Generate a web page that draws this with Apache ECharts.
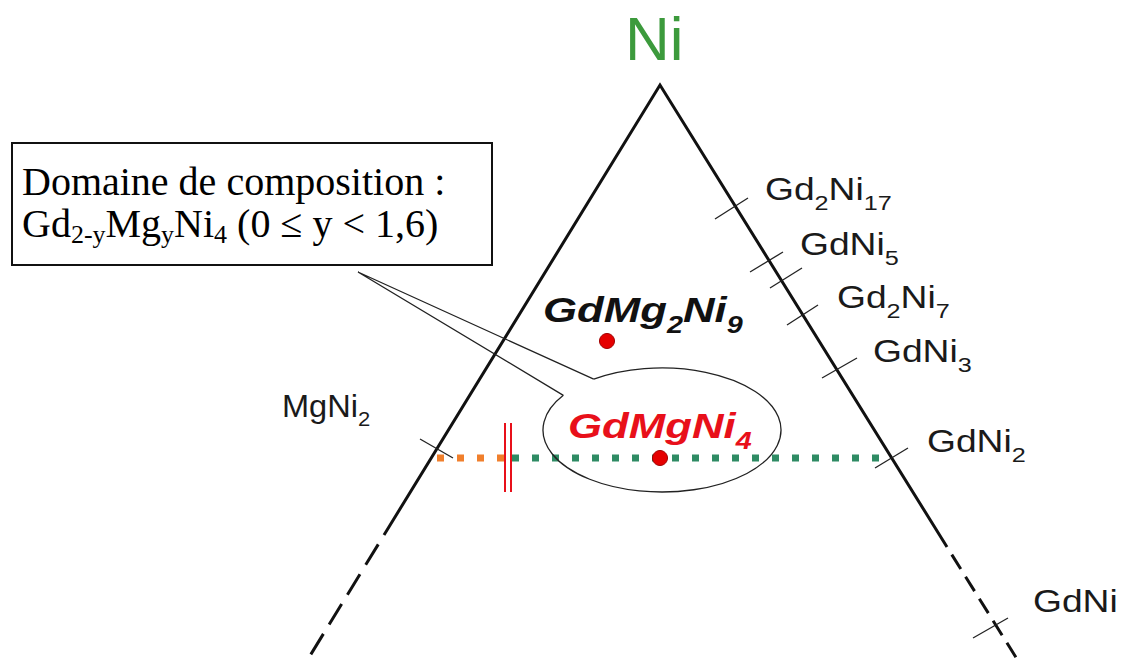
<!DOCTYPE html>
<html><head><meta charset="utf-8">
<script src="https://cdn.jsdelivr.net/npm/echarts@6/dist/echarts.min.js"></script>
<style>html,body{margin:0;padding:0;background:#fff}#c{width:1124px;height:659px}</style>
</head><body><div id="c"></div>
<script>
// ---- diagram data (units of the diagram frame) ----
const frameX = [0, 1124];
const frameY = [0, 659];
const triangleSolid = [[384,535],[660,85],[947,547]];
const triangleDashLeft = [[384,535],[308,659]];
const triangleDashRight = [[947,547],[1017,659]];
const tickFrom = [[715,219],[750,272],[770,288],[787,325],[822,378],[875,468],[973,638],[420,439]];
const tickTo   = [[748,198],[783,252],[802,268],[818,305],[857,358],[908,448],[1008,618],[453,458]];
const siteLabels = ['Gd{2}Ni{17}','GdNi{5}','Gd{2}Ni{7}','GdNi{3}','GdNi{2}','GdNi','MgNi{2}'];
const siteLabelAt = [[765,200],[800,255],[837,308],[873,362],[927,452],[1033,612],[282,417]];
const siteLabelStretch = [1.2, 1.2, 1.2, 1.2, 1.2, 1.2, 1.05];
const phaseNames = ['GdMg{2}Ni{9}','GdMgNi{4}'];
const phasePoints = [[607,341],[660,458]];
const phaseLabelAt = [[543,322],[568,438]];
const tieOrange = [[437,458],[505,458]];
const tieGreen = [[512,458],[888,458]];
const limitBarX = [505, 511];
const limitBarY = [423, 492];
const boxCorners = [[12,143],[492,265]];
const boxLines = ['Domaine de composition :','Gd{2-y}Mg{y}Ni{4} (0 ≤ y < 1,6)'];
const boxLineAt = [[22,195],[22,237]];
const bubbleCenter = [662,430];
const bubbleRadii = [119,62];
const bubbleGapDeg = [214,235];
const pointerTip = [358,272];
const apexLabel = 'Ni';
const apexLabelAt = [625,60];

// ---- helpers ----
function toRich(markup) {
  return markup.split(/(\{[^}]*\})/).filter(Boolean)
    .map(t => t[0] === '{' ? '{s|' + t.slice(1, -1) + '}' : '{m|' + t + '}').join('');
}
function label(api, at, markup, st) {
  const p = api.coord(at);
  const F = st.F, s = st.s || Math.round(F * 0.68), drop = st.drop || 0;
  const L = 0.85 * F + drop + 0.15 * s;
  const base = {fontFamily: st.family, fontWeight: st.weight || 'normal', fontStyle: st.style || 'normal', fill: st.color};
  return {
    type: 'text', x: p[0], y: p[1] - 0.85 * F, scaleX: st.stretch || 1, originX: 0, originY: 0,
    style: {
      text: toRich(markup), align: 'left', verticalAlign: 'top',
      rich: {
        m: Object.assign({fontSize: F, height: F, lineHeight: F, verticalAlign: 'top'}, base),
        s: Object.assign({fontSize: s, height: s, lineHeight: L, verticalAlign: 'bottom'}, base)
      }
    }
  };
}
const SANS = 'Liberation Sans, Arial, sans-serif';
const SERIF = 'Liberation Serif, Times New Roman, serif';

const chart = echarts.init(document.getElementById('c'), null, {renderer: 'svg'});
chart.setOption({
  animation: false,
  backgroundColor: '#ffffff',
  grid: {left: 0, right: 0, top: 0, bottom: 0},
  xAxis: {type: 'value', min: frameX[0], max: frameX[1], show: false},
  yAxis: {type: 'value', min: frameY[0], max: frameY[1], inverse: true, show: false},
  series: [
    {type: 'line', data: triangleSolid, symbol: 'none', silent: true, z: 3,
     lineStyle: {color: '#111', width: 3, join: 'miter'}},
    {type: 'line', data: triangleDashLeft, symbol: 'none', silent: true, z: 3,
     lineStyle: {color: '#111', width: 3, type: [24, 11], dashOffset: 24}},
    {type: 'line', data: triangleDashRight, symbol: 'none', silent: true, z: 3,
     lineStyle: {color: '#111', width: 3, type: [17, 9], dashOffset: 17}},
    {type: 'custom', silent: true, z: 4, data: [[0, 0]],
     renderItem: (params, api) => ({type: 'group', children: tickFrom.map((a, i) => {
       const p = api.coord(a), q = api.coord(tickTo[i]);
       return {type: 'line', shape: {x1: p[0], y1: p[1], x2: q[0], y2: q[1]}, style: {stroke: '#222', lineWidth: 1.3}};
     })})},
    {type: 'line', data: tieOrange, symbol: 'none', silent: true, z: 5,
     lineStyle: {color: '#f07f2c', width: 7, type: [7, 13], cap: 'butt'}},
    {type: 'line', data: tieGreen, symbol: 'none', silent: true, z: 5,
     lineStyle: {color: '#2e8b64', width: 7, type: [7, 13], cap: 'butt'}},
    {type: 'custom', silent: true, z: 6, data: [[0, 0]],
     renderItem: (params, api) => ({type: 'group', children: limitBarX.map(x => {
       const p = api.coord([x, limitBarY[0]]), q = api.coord([x, limitBarY[1]]);
       return {type: 'line', shape: {x1: p[0], y1: p[1], x2: q[0], y2: q[1]}, style: {stroke: '#e8101a', lineWidth: 2}};
     })})},
    {type: 'custom', silent: true, z: 7, data: [[0, 0]],
     renderItem: (params, api) => {
       const c = api.coord(bubbleCenter);
       const sz = api.size(bubbleRadii);
       const rx = Math.abs(sz[0]), ry = Math.abs(sz[1]);
       const pt = d => [c[0] + rx * Math.cos(d * Math.PI / 180), c[1] + ry * Math.sin(d * Math.PI / 180)];
       const a = pt(bubbleGapDeg[1]), b = pt(bubbleGapDeg[0]);
       const t = api.coord(pointerTip);
       return {type: 'group', children: [
         {type: 'path', shape: {pathData: 'M' + a[0] + ' ' + a[1] + ' A' + rx + ' ' + ry + ' 0 1 1 ' + b[0] + ' ' + b[1]},
          style: {fill: 'none', stroke: '#222', lineWidth: 1.3}},
         {type: 'polyline', shape: {points: [a, t, b]}, style: {fill: 'none', stroke: '#222', lineWidth: 1.3}}
       ]};
     }},
    {type: 'scatter', data: phasePoints, symbol: 'circle', symbolSize: [15, 15], silent: true, z: 8,
     itemStyle: {color: '#e50000', borderColor: '#a00000', borderWidth: 1, opacity: 1}},
    {type: 'custom', silent: true, z: 9, data: [[0, 0]],
     renderItem: (params, api) => {
       const p = api.coord(boxCorners[0]), q = api.coord(boxCorners[1]);
       const kids = [{type: 'rect', shape: {x: p[0], y: p[1], width: q[0] - p[0], height: q[1] - p[1]},
                      style: {fill: '#fff', stroke: '#111', lineWidth: 2}}];
       boxLines.forEach((t, i) => kids.push(label(api, boxLineAt[i], t,
         {F: 40, s: 26, drop: 7, family: SERIF, color: '#000'})));
       return {type: 'group', children: kids};
     }},
    {type: 'custom', silent: true, z: 10, data: [[0, 0]],
     renderItem: (params, api) => {
       const kids = [];
       kids.push(label(api, apexLabelAt, apexLabel, {F: 62, family: SANS, color: '#3c9a3c'}));
       siteLabels.forEach((t, i) => kids.push(label(api, siteLabelAt[i], t,
         {F: 31, s: 21, drop: 10, family: SANS, color: '#1a1a1a', stretch: siteLabelStretch[i]})));
       phaseNames.forEach((t, i) => kids.push(label(api, phaseLabelAt[i], t,
         {F: 35, s: 23, drop: 11, family: SANS, weight: 'bold', style: 'italic', stretch: 1.25,
          color: i === 0 ? '#111' : '#e8101a'})));
       return {type: 'group', children: kids};
     }}
  ]
});
</script></body></html>
